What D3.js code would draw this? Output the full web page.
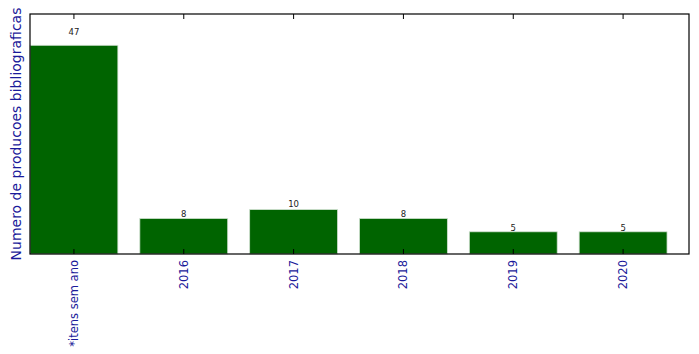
<!DOCTYPE html>
<html>
<head>
    <script src="https://d3js.org/d3.v7.min.js"></script>
    <style>
        body { margin: 0; background: #fff; }
        text { font-family: "DejaVu Sans", sans-serif; }
    </style>
</head>
<body>
    <div id="chart"></div>
    <script>
        // Data
        var categories = ["*itens sem ano", "2016", "2017", "2018", "2019", "2020"];
        var counts = [47, 8, 10, 8, 5, 5];
        var yLabel = "Numero de producoes bibliograficas";

        var W = 699, H = 354;
        var margin = { top: 14, right: 10, bottom: 100, left: 30 };
        var width = W - margin.left - margin.right;
        var height = H - margin.top - margin.bottom;

        var svg = d3.select("#chart").append("svg")
            .attr("width", W).attr("height", H);

        var g = svg.append("g")
            .attr("transform", "translate(" + margin.left + "," + margin.top + ")");

        // matplotlib style: bar centers at integers, width 0.8
        var x = d3.scaleLinear().domain([-0.4, categories.length - 0.4]).range([0, width]);
        var y = d3.scaleLinear().domain([0, d3.max(counts) * 1.15]).range([height, 0]);
        var barW = 0.8;

        g.selectAll(".bar")
            .data(counts)
            .enter().append("rect")
            .attr("class", "bar")
            .attr("x", function(d, i) { return x(i - barW / 2); })
            .attr("width", function(d, i) { return x(i + barW / 2) - x(i - barW / 2); })
            .attr("y", function(d) { return y(d); })
            .attr("height", function(d) { return height - y(d); })
            .attr("fill", "#006400")
            .attr("stroke", "#cfe0cf")
            .attr("stroke-width", 0.8);

        // value labels
        g.selectAll(".val")
            .data(counts)
            .enter().append("text")
            .attr("x", function(d, i) { return x(i); })
            .attr("y", function(d) { return y(d * 1.05); })
            .attr("text-anchor", "middle")
            .attr("font-size", "8.5px")
            .attr("fill", "#222")
            .text(function(d) { return d; });

        // frame
        g.append("rect")
            .attr("width", width).attr("height", height)
            .attr("fill", "none").attr("stroke", "#000").attr("stroke-width", 1.2);

        // ticks inside, bottom and top
        var idx = d3.range(categories.length);
        g.selectAll(".tb").data(idx).enter().append("line")
            .attr("x1", function(i) { return x(i); }).attr("x2", function(i) { return x(i); })
            .attr("y1", height).attr("y2", height - 5)
            .attr("stroke", "#000");
        g.selectAll(".tt").data(idx).enter().append("line")
            .attr("x1", function(i) { return x(i); }).attr("x2", function(i) { return x(i); })
            .attr("y1", 0).attr("y2", 5)
            .attr("stroke", "#000");

        // tick labels rotated 90
        g.selectAll(".tl").data(categories).enter().append("text")
            .attr("transform", function(d, i) {
                return "translate(" + (x(i) + 4) + "," + (height + 6) + ") rotate(-90)";
            })
            .attr("text-anchor", "end")
            .attr("font-size", "11.5px")
            .attr("fill", "#1a1a9a")
            .text(function(d) { return d; });

        // y label
        svg.append("text")
            .attr("transform", "translate(" + 21 + "," + (margin.top + height / 2) + ") rotate(-90)")
            .attr("text-anchor", "middle")
            .attr("font-size", "14px")
            .attr("fill", "#1a1a9a")
            .text(yLabel);
    </script>
</body>
</html>
